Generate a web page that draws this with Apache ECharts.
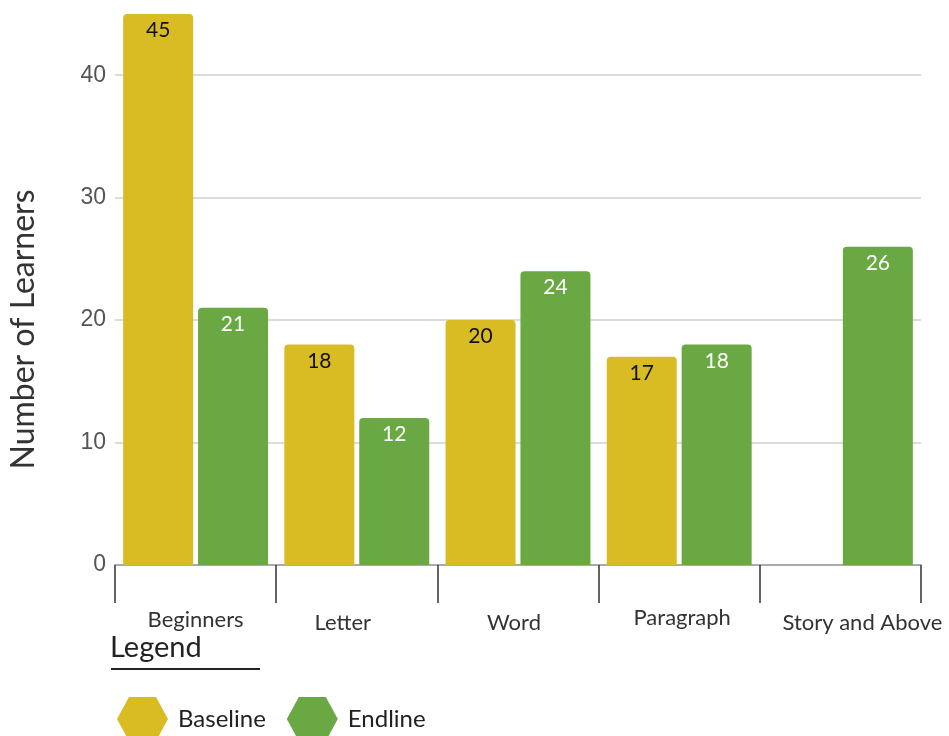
<!DOCTYPE html>
<html>
<head>
<meta charset="utf-8">
<script src="https://cdn.jsdelivr.net/npm/echarts@6/dist/echarts.min.js"></script>
<style>html,body{margin:0;padding:0;background:#fff;}#c{width:949px;height:736px;}</style>
</head>
<body>
<div id="c"></div>
<script>
const categories = ['Beginners', 'Letter', 'Word', 'Paragraph', 'Story and Above'];
const baseline = [45, 18, 20, 17, 0];
const endline = [21, 12, 24, 18, 26];
const seriesNames = ['Baseline', 'Endline'];
const yTitle = 'Number of Learners';
const legendTitle = 'Legend';

const labelPads = [[2,0,0,0],[5,28,0,0],[5,8,0,0],[0,0,0,6],[5,0,0,44]];
const hex = 'path://M0,22 L12,0 L39,0 L51,22 L39,44 L12,44 Z';
const font = 'Lato, "Noto Sans", sans-serif';

const chart = echarts.init(document.getElementById('c'), null, {renderer: 'canvas'});
chart.setOption({
  animation: false,
  backgroundColor: '#ffffff',
  grid: {left: 115, right: 28, top: 14, bottom: 171, containLabel: false, outerBoundsMode: 'none'},
  legend: {
    data: seriesNames.map(n => ({name: n, icon: hex})),
    left: 112, top: 692,
    itemWidth: 51, itemHeight: 44, itemGap: 21,
    textStyle: {fontFamily: font, fontSize: 24, color: '#222', padding: [0,0,0,5]}
  },
  graphic: [
    {type: 'text', left: 110, top: 633, style: {text: legendTitle, font: '29px Lato, sans-serif', fill: '#222'}},
    {type: 'line', shape: {x1: 111, y1: 669, x2: 260, y2: 669}, style: {stroke: '#222', lineWidth: 2}}
  ],
  xAxis: {
    type: 'category',
    data: categories.map((c, i) => ({value: c, textStyle: {padding: labelPads[i]}})),
    axisLine: {show: true, lineStyle: {color: '#999', width: 1.5}},
    axisTick: {show: true, length: 38, lineStyle: {color: '#333', width: 1.5}},
    axisLabel: {margin: 42, fontFamily: font, fontSize: 22, color: '#333', interval: 0}
  },
  yAxis: {
    type: 'value', min: 0, max: 45, interval: 10,
    name: yTitle, nameLocation: 'middle', nameGap: 75, nameRotate: 90,
    nameTextStyle: {fontFamily: font, fontSize: 32, color: '#333', padding: [0, 80, 0, 0]},
    axisLine: {show: false}, axisTick: {show: false},
    axisLabel: {margin: 9, fontFamily: '"Liberation Sans", Arial, sans-serif', fontSize: 23, color: '#555',
      formatter: v => (v % 10 === 0 ? String(v) : '')},
    splitLine: {show: true, showMaxLine: false, lineStyle: {color: '#d0d0d0', width: 1.5}}
  },
  series: [
    {
      name: seriesNames[0], type: 'bar', data: baseline, barWidth: 70, barGap: '7%',
      itemStyle: {color: '#D9BC24', borderRadius: [4,4,0,0]},
      label: {show: true, position: 'insideTop', distance: 6, fontFamily: font, fontSize: 21, color: '#111',
        formatter: p => (p.value ? p.value : '')}
    },
    {
      name: seriesNames[1], type: 'bar', data: endline, barWidth: 70, barGap: '7%',
      itemStyle: {color: '#6AA843', borderRadius: [4,4,0,0]},
      label: {show: true, position: 'insideTop', distance: 6, fontFamily: font, fontSize: 21, color: '#fff'}
    }
  ]
});
</script>
</body>
</html>
